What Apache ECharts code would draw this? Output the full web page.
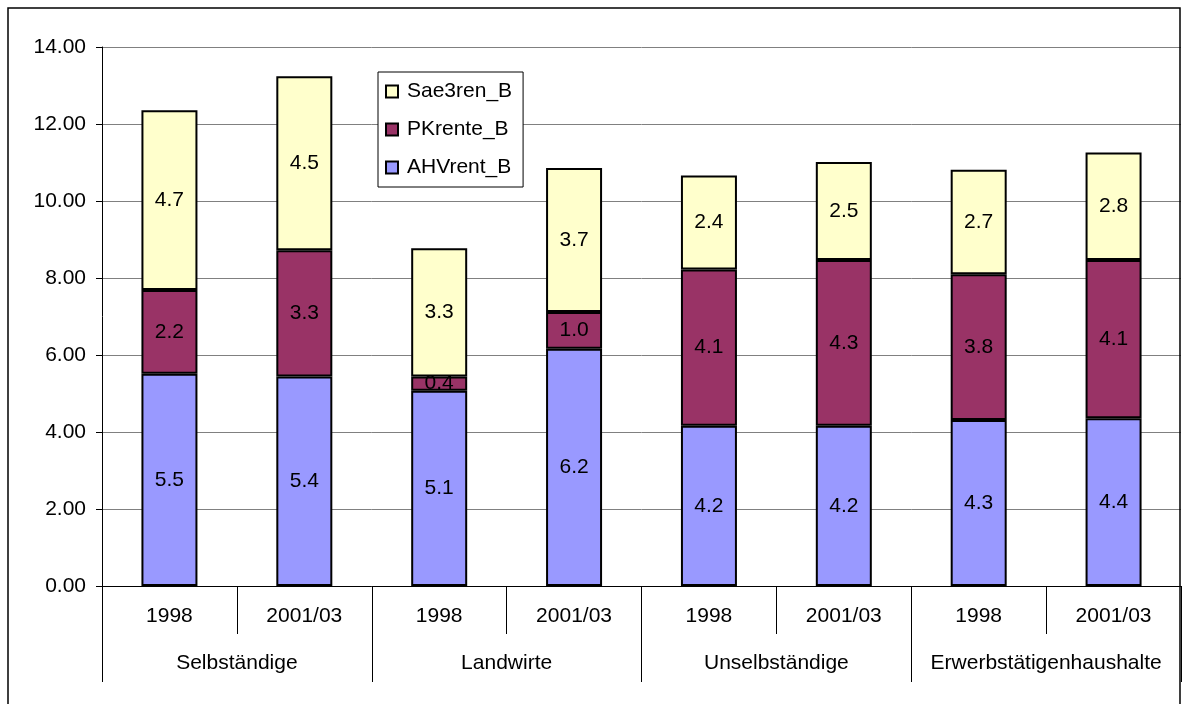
<!DOCTYPE html>
<html>
<head>
<meta charset="UTF-8">
<title>Renten</title>
<script src="https://cdn.jsdelivr.net/npm/echarts@6/dist/echarts.min.js"></script>
<style>
    *{margin:0;padding:0;}
    body,html{width:100%;height:100%;background:#fff;}
    #main{width:1182px;height:704px;}
</style>
</head>
<body>
<div id="main"></div>
<script>
    // categories
    var years = ['1998', '2001/03', '1998', '2001/03', '1998', '2001/03', '1998', '2001/03'];
    var groups = ['Selbständige', 'Landwirte', 'Unselbständige', 'Erwerbstätigenhaushalte'];
    // series values
    var ahvRent = [5.51, 5.44, 5.07, 6.16, 4.16, 4.16, 4.31, 4.36];
    var pkRente = [2.18, 3.28, 0.37, 0.96, 4.06, 4.31, 3.79, 4.11];
    var sae3ren = [4.67, 4.52, 3.33, 3.74, 2.44, 2.54, 2.71, 2.79];
    var yTicks = [0, 2, 4, 6, 8, 10, 12, 14];

    var font = 'Liberation Sans, Arial, sans-serif';
    var fs = 21;

    function barSeries(name, data, color) {
        return {
            name: name,
            type: 'bar',
            stack: 'total',
            barWidth: 56,
            data: data,
            itemStyle: {color: color, borderColor: '#000', borderWidth: 2},
            label: {
                show: true,
                position: 'inside',
                color: '#000',
                fontFamily: font,
                fontSize: fs,
                formatter: function (p) { return p.value.toFixed(1); }
            }
        };
    }

    var myChart = echarts.init(document.getElementById('main'));
    myChart.setOption({
        animation: false,
        backgroundColor: '#fff',
        graphic: [{
            type: 'rect',
            shape: {x: 8, y: 8, width: 1172, height: 800},
            style: {fill: 'none', stroke: '#000', lineWidth: 1.5},
            z: 100
        }],
        grid: {left: 102, right: 1, top: 47, bottom: 118},
        legend: {
            orient: 'vertical',
            left: 378,
            top: 72,
            data: ['Sae3ren_B', 'PKrente_B', 'AHVrent_B'],
            backgroundColor: '#fff',
            borderColor: '#000',
            borderWidth: 1,
            padding: [9, 11, 9, 7],
            itemWidth: 12,
            itemHeight: 12,
            itemGap: 17,
            icon: 'rect',
            itemStyle: {borderColor: '#000', borderWidth: 2},
            textStyle: {fontFamily: font, fontSize: fs, color: '#000', padding: [0, 0, 0, 4]}
        },
        xAxis: [{
            type: 'category',
            data: years,
            position: 'bottom',
            axisLine: {show: true, lineStyle: {color: '#000', width: 1}},
            axisTick: {show: true, alignWithLabel: false, interval: 0, length: 48, lineStyle: {color: '#000'}},
            axisLabel: {margin: 20, color: '#000', fontFamily: font, fontSize: fs, interval: 0}
        }, {
            type: 'category',
            data: groups,
            position: 'bottom',
            axisLine: {show: false},
            axisTick: {show: true, alignWithLabel: false, interval: 0, length: 96, lineStyle: {color: '#000'}},
            axisLabel: {margin: 67, color: '#000', fontFamily: font, fontSize: fs, interval: 0}
        }],
        yAxis: {
            type: 'value',
            min: yTicks[0],
            max: yTicks[yTicks.length - 1],
            interval: 2,
            axisLine: {show: true, lineStyle: {color: '#000'}},
            axisTick: {show: true, length: 6, lineStyle: {color: '#000'}},
            axisLabel: {margin: 16, color: '#000', fontFamily: font, fontSize: fs,
                formatter: function (v) { return v.toFixed(2); }},
            splitLine: {lineStyle: {color: '#808080', width: 1}}
        },
        series: [
            barSeries('AHVrent_B', ahvRent, '#9999FF'),
            barSeries('PKrente_B', pkRente, '#993366'),
            barSeries('Sae3ren_B', sae3ren, '#FFFFCC')
        ]
    });
</script>
</body>
</html>
